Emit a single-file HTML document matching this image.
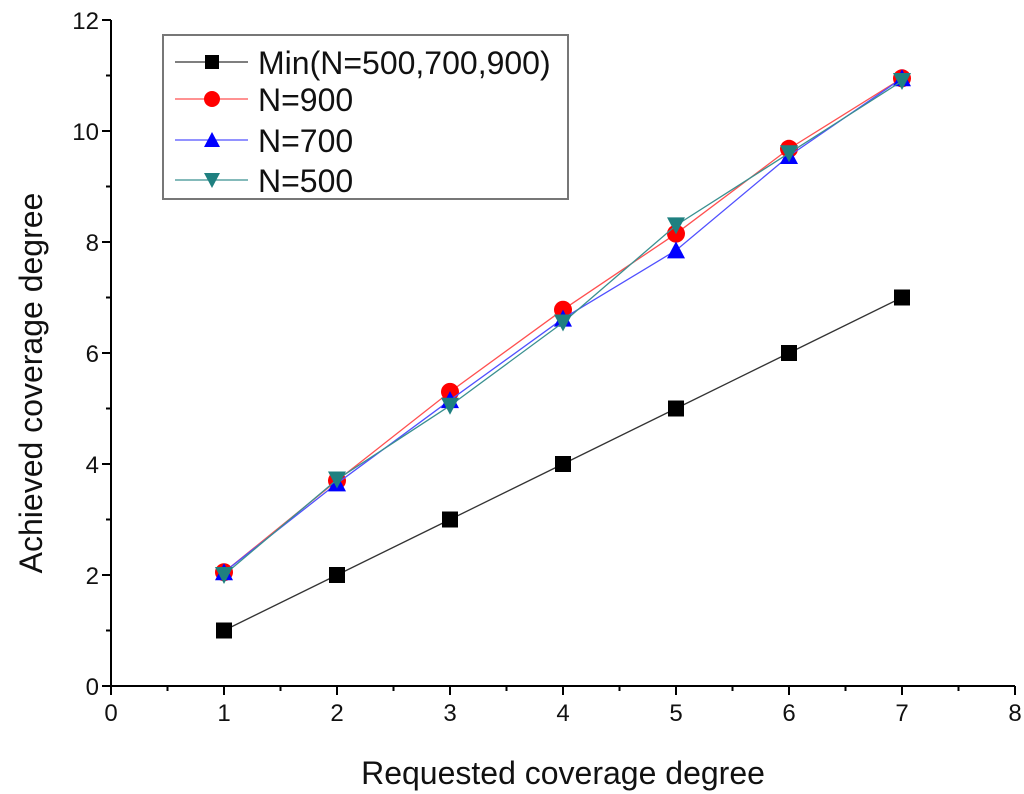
<!DOCTYPE html>
<html><head><meta charset="utf-8"><style>
body{margin:0;background:#fff}
svg{display:block;font-family:"Liberation Sans",Arial,sans-serif}
</style></head><body>
<svg id="chart" width="1024" height="794" viewBox="0 0 1024 794">
<g id="axes"></g>
<g id="series"></g>
<g id="legend"></g>
<text x="563" y="784" font-size="32" text-anchor="middle" fill="#111">Requested coverage degree</text>
<text transform="translate(42,383) rotate(-90)" font-size="32" text-anchor="middle" fill="#111">Achieved  coverage degree</text>
</svg>
<script>
const xCats=[1,2,3,4,5,6,7];
const xTicks=[0,1,2,3,4,5,6,7,8];
const yTicks=[0,2,4,6,8,10,12];
const minVals=[1,2,3,4,5,6,7];
const n900=[2.05,3.7,5.3,6.78,8.15,9.68,10.95];
const n700=[2.05,3.65,5.15,6.62,7.85,9.55,10.95];
const n500=[2.0,3.72,5.05,6.55,8.3,9.6,10.9];
const seriesNames=["Min(N=500,700,900)","N=900","N=700","N=500"];
const NS="http://www.w3.org/2000/svg";
const X=v=>111+v*113;
const Y=v=>686-v*55.5;
function mk(tag,attrs,parent){const e=document.createElementNS(NS,tag);for(const k in attrs)e.setAttribute(k,attrs[k]);parent.appendChild(e);return e;}
const axes=document.getElementById('axes');
let l=mk('line',{x1:X(0),y1:Y(0),x2:X(8),y2:Y(0),stroke:'#000','stroke-width':2},axes);


l=mk('line',{x1:X(0),y1:Y(0),x2:X(0),y2:Y(12),stroke:'#000','stroke-width':2},axes);


xTicks.forEach(t=>{
 let tk=mk('line',{x1:X(t),y1:Y(0),x2:X(t),y2:Y(0)+9,stroke:'#000','stroke-width':2},axes);
 
 
 if(t<8){let m=mk('line',{x1:X(t+0.5),y1:Y(0),x2:X(t+0.5),y2:Y(0)+5,stroke:'#000','stroke-width':2},axes);
 
 }
 let tx=mk('text',{x:X(t),y:Y(0)+35,'font-size':24,'text-anchor':'middle',fill:'#111'},axes);tx.textContent=t;
 
 
});
yTicks.forEach(t=>{
 let tk=mk('line',{x1:X(0)-9,y1:Y(t),x2:X(0),y2:Y(t),stroke:'#000','stroke-width':2},axes);
 
 
 if(t<12){let m=mk('line',{x1:X(0)-5,y1:Y(t+1),x2:X(0),y2:Y(t+1),stroke:'#000','stroke-width':2},axes);
 
 }
 let tx=mk('text',{x:X(0)-12,y:Y(t)+9,'font-size':24,'text-anchor':'end',fill:'#111'},axes);tx.textContent=t;
 
 
});
function marker(type,color,cx,cy,p,s){
 let e;
 if(type==='sq')e=mk('rect',{x:cx-s,y:cy-s,width:2*s,height:2*s,fill:color},p);
 else if(type==='ci')e=mk('circle',{cx:cx,cy:cy,r:s+1,fill:color},p);
 else if(type==='up')e=mk('polygon',{points:`${cx},${cy-s-1} ${cx-s-1},${cy+s} ${cx+s+1},${cy+s}`,fill:color},p);
 else e=mk('polygon',{points:`${cx-s-1},${cy-s} ${cx+s+1},${cy-s} ${cx},${cy+s+1}`,fill:color},p);
 return e;
}
const defs=[{d:minVals,c:'#000',lc:'#333',m:'sq',n:'min'},{d:n900,c:'#ff0000',lc:'#ff5050',m:'ci',n:'n900'},{d:n700,c:'#0000ff',lc:'#5050ff',m:'up',n:'n700'},{d:n500,c:'#1f8080',lc:'#3a9090',m:'dn',n:'n500'}];
const sg=document.getElementById('series');
defs.forEach(s=>{
 const g=mk('g',{},sg);
 
 
 const pl=mk('polyline',{points:xCats.map((x,i)=>X(x)+','+Y(s.d[i])).join(' '),fill:'none',stroke:s.lc,'stroke-width':1.3},g);
 
 
 xCats.forEach((x,i)=>{
  const m=marker(s.m,s.c,X(x),Y(s.d[i]),g,8);
  
  
 });
});
const lg=document.getElementById('legend');
let box=mk('rect',{x:163,y:35,width:405,height:164,fill:'#fff',stroke:'#777','stroke-width':2},lg);


const rowsY=[62,99,140,180];
defs.forEach((s,i)=>{
 const g=mk('g',{},lg);
 
 
 mk('line',{x1:175,y1:rowsY[i],x2:248,y2:rowsY[i],stroke:s.lc,'stroke-width':1.3},g);
 marker(s.m,s.c,212,rowsY[i],g,7);
 const t=mk('text',{x:258,y:rowsY[i]+12,'font-size':32,fill:'#111'},g);t.textContent=seriesNames[i];
});
</script>
</body></html>
